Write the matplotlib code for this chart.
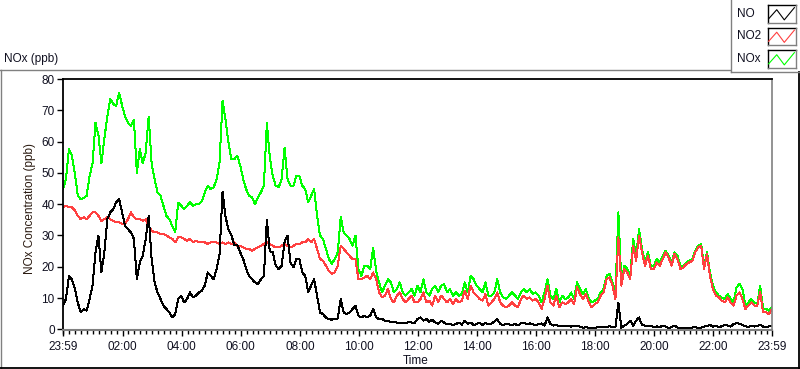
import numpy as np
import matplotlib
matplotlib.use("Agg")
import matplotlib.pyplot as plt
from matplotlib.lines import Line2D

# ---------------- data (6-minute samples starting 23:59) ----------------
start_hour = -1 / 60.0          # 23:59 of the previous day
step_minutes = 6

NO = [7.6, 9.7, 17, 16, 13, 8.6, 5.4, 6.5, 6, 9.7,
      14, 24.6, 30, 18.2, 24.6, 35.2, 37.4, 38.4, 40.6, 41.6,
      37.4, 33.1, 32, 31, 28.9, 16, 21.4, 23.5, 28.9, 36.3,
      22.5, 15, 11.8, 9.7, 7.6, 6.5, 5.4, 3.8, 4.9, 9.7,
      10.8, 8.6, 9.7, 11.8, 10.2, 10.8, 11.8, 12.4, 14, 18.2,
      17.1, 16, 19.3, 24, 44, 36, 32, 30, 27, 27,
      24.6, 22.5, 19.3, 17.1, 16, 15, 14.5, 16, 17.1, 35,
      25, 24.6, 20.3, 19.3, 20.3, 28, 30, 21.4, 19.8, 22.5,
      22.5, 18.2, 17.1, 11.8, 14, 16, 10.8, 5.4, 4.9, 3.8,
      3.3, 3.1, 3.3, 3.5, 9.7, 5.4, 4.9, 5.4, 6.5, 7.6,
      4.4, 3.8, 4.4, 3.8, 4.4, 6.5, 3.8, 3.3, 3.3, 2.8,
      2.8, 2.2, 2.4, 2.2, 2, 2.2, 1.9, 2.4, 2.2, 2,
      3.3, 3.8, 2.8, 3.3, 2.4, 3.1, 2.2, 1.7, 2.8, 2.2,
      1.6, 1.8, 1.4, 1.7, 2.2, 1.5, 2.8, 1.7, 2.2, 1.4,
      1.7, 2.2, 1.4, 2, 1.6, 1.9, 2.4, 3.3, 1.7, 1.4,
      1.8, 1.6, 1.4, 1.7, 1.3, 1.9, 2.2, 1.7, 1.9, 1.6,
      1.4, 1.7, 1.9, 1.2, 3.8, 1.7, 1.2, 1.4, 1, 1.2,
      1, 1.2, 0.9, 1, 1.2, 0.9, 0.5, 0.7, 0.5, 0.4,
      0.5, 0.7, 0.6, 0.9, 0.7, 1, 0.6, 0.7, 8.6, 0.5,
      1.2, 1.7, 2.8, 1.2, 2.8, 3.8, 1.4, 1.2, 1, 1.2,
      0.6, 1, 0.7, 1.2, 0.9, 0.5, 0.7, 1.2, 0.6, 0.4,
      0.3, 0.5, 0.4, 0.6, 0.7, 0.5, 0.6, 0.9, 1.1, 1.4,
      0.9, 1.2, 0.7, 1, 1.4, 1.2, 0.9, 1.7, 2, 1.8,
      1.4, 1, 0.7, 1.2, 0.9, 1.1, 1.4, 0.9, 0.6, 1, 1.2]

NO2 = [39, 39.5, 39, 39, 38, 36.3, 35.2, 35.8, 35.2, 36.3,
       37.4, 37.4, 36.3, 34.7, 35.2, 35.8, 35.2, 34.7, 34.2, 34.2,
       33.7, 33.7, 35.2, 37.4, 35.8, 35.2, 35.2, 34.7, 35.2, 33.1,
       31.5, 31, 31, 30.5, 30.5, 30, 29.4, 28.9, 27.8, 29.4,
       29.4, 28.9, 28.3, 28.9, 27.8, 28.3, 27.8, 27.8, 27.8, 27.3,
       27.8, 27.8, 27.8, 27.3, 27.8, 27.3, 27.8, 27.3, 27.8, 26.7,
       26.7, 26.2, 25.7, 25.7, 25.1, 25.7, 26.2, 26.7, 27.3, 27.8,
       27.3, 26.7, 26.2, 26.2, 26.7, 27.3, 26.7, 26.2, 26.7, 27.3,
       27.3, 27.8, 27.8, 28.9, 27.8, 28.9, 25.7, 22.5, 21.9, 20.3,
       18.7, 17.7, 18.2, 20.3, 26.7, 25.7, 24.6, 23.5, 22.5, 22.5,
       16, 16, 16.6, 17.1, 16, 18.2, 16, 11.8, 10.2, 10.8,
       12.9, 9.7, 8.6, 10.8, 11.8, 9.7, 8.6, 9.7, 10.8, 8.6,
       8.6, 9.7, 11.8, 8.6, 9.2, 7.6, 10.8, 8.6, 10.8, 9.7,
       8.6, 9.7, 8.1, 9.7, 8.6, 9.2, 12.4, 9.7, 14, 11.8,
       10.8, 9.7, 9.2, 11.3, 7.6, 8.6, 9.7, 11.8, 8.6, 7.6,
       7, 7.6, 8.6, 7.6, 7, 9.7, 10.8, 9.7, 10.2, 9.2,
       9.7, 8.6, 6.5, 9.7, 14, 8.6, 7.6, 10.8, 7, 8.6,
       8.1, 8.6, 9.7, 8.1, 13.4, 11.3, 9.7, 11.3, 8.6, 7,
       8.1, 8.6, 10.8, 11.8, 16, 16.6, 14, 9.7, 29.4, 14,
       19.3, 18.2, 16, 26.7, 21.9, 30, 24.6, 20.3, 23.5, 19.3,
       19.3, 21.4, 20.3, 22.5, 24.6, 23, 20.3, 24.1, 22.5, 19.3,
       19.8, 20.9, 21.4, 21.9, 24.6, 26.2, 26.7, 19.3, 24.1, 17.1,
       12.9, 10.8, 10.2, 9.2, 8.6, 10.2, 8.6, 7.6, 10.8, 11.8,
       9.7, 6.5, 7.6, 8.6, 7.6, 7.6, 11.8, 5.4, 5.4, 4.9, 6.5]

NOx = [44.8, 48, 57.6, 55.5, 50, 42.7, 41.6, 42, 42.7, 49,
       53, 66, 62, 53, 61, 68, 73.6, 72, 71.5, 75.7,
       71.5, 68, 66, 65, 67, 50, 57.6, 53, 56.5, 68,
       53, 48, 43.8, 42.7, 39.5, 36.3, 35.2, 33, 31, 40.5,
       39.5, 38.4, 39.5, 40.6, 39.5, 40, 40, 41, 43.8, 45.9,
       44.8, 45.4, 48, 53.4, 73, 67.2, 59.7, 54.4, 54.4, 55.5,
       52.3, 48, 44.8, 42.7, 42.2, 40, 42.2, 43.8, 45.9, 66,
       55, 49, 45.9, 45.4, 48, 58, 48, 45.9, 45.9, 49,
       49, 45.9, 44.8, 40.6, 42.7, 44.8, 36.3, 30, 28.9, 25.7,
       22.5, 20.9, 22.5, 24.6, 36, 31, 30, 28.9, 26.7, 30,
       19.3, 17.1, 20.3, 20.3, 19.3, 26, 18.7, 15, 11.8, 14,
       16, 15, 11.8, 12.9, 15, 11.8, 10.8, 11.8, 12.9, 10.8,
       14, 11.8, 16, 11.8, 10.8, 12.9, 14, 11.8, 14, 14.5,
       11.8, 12.9, 10.8, 11.8, 10.8, 11.3, 15, 11.8, 17.1, 16,
       14, 12.9, 11.8, 15, 10.8, 10.8, 11.8, 16, 11.8, 10.2,
       9.7, 10.8, 11.8, 10.8, 9.7, 11.8, 12.9, 11.8, 12.9, 11.3,
       11.8, 10.8, 8.6, 11.8, 16, 10.8, 9.7, 12.9, 8.6, 10.8,
       9.7, 10.2, 11.8, 9.7, 15, 12.9, 11.3, 12.9, 9.7, 8.6,
       9.2, 9.7, 11.8, 12.9, 17.1, 17.7, 15, 11.8, 37.4, 15,
       20.3, 19.3, 17.1, 28.9, 23.5, 32, 25.7, 21.4, 24.6, 20.3,
       20.3, 22.5, 21.4, 23.5, 25.1, 23.5, 21.4, 24.6, 23.5, 20.3,
       20.3, 21.4, 21.9, 22.5, 25.1, 26.7, 27.3, 20.3, 24.6, 18.2,
       14, 11.8, 10.8, 10.2, 9.7, 11.3, 9.7, 8.6, 13.4, 14.5,
       12.9, 7.6, 8.6, 9.7, 8.6, 8.1, 14, 6.5, 6.5, 6, 7]

series_names = ["NO", "NO2", "NOx"]
series_colors = ["#000000", "#ff4040", "#00ff00"]

xtick_hours = [-1 / 60.0, 2, 4, 6, 8, 10, 12, 14, 16, 18, 20, 22, 24 - 1 / 60.0]
xtick_labels = ["23:59", "02:00", "04:00", "06:00", "08:00", "10:00", "12:00",
                "14:00", "16:00", "18:00", "20:00", "22:00", "23:59"]
yticks = [0, 10, 20, 30, 40, 50, 60, 70, 80]

# ---------------- figure ----------------
W, H = 800, 369
plt.rcParams['font.family'] = ['Liberation Sans', 'DejaVu Sans']
fig = plt.figure(figsize=(W / 100, H / 100), dpi=100)
fig.patch.set_facecolor("white")


def fx(x):
    return x / W


def fy(y):
    return 1 - y / H


ax = fig.add_axes([fx(63), fy(330), fx(772) - fx(63), fy(79) - fy(330)])
t = start_hour + step_minutes / 60.0 * np.arange(len(NO))
data = {"NO": NO, "NO2": NO2, "NOx": NOx}
for name in ["NOx", "NO2", "NO"]:
    col = series_colors[series_names.index(name)]
    ax.plot(t, data[name], color=col, lw=0.72, antialiased=False)

ax.set_xlim(xtick_hours[0], xtick_hours[-1])
ax.set_ylim(-0.2, 80)
ax.set_xticks(xtick_hours)
ax.set_xticklabels(xtick_labels)
ax.set_xticks(np.arange(0, 24, 0.2), minor=True)
ax.set_yticks(yticks)
ax.set_yticklabels([str(v) for v in yticks])
ax.tick_params(axis="both", which="major", length=4, width=1, color="black",
               labelsize=8.5, pad=2, labelcolor="#101020")
ax.tick_params(axis="x", which="minor", length=3, width=1, color="black")
ax.tick_params(axis="x", which="major", pad=4)

ax.spines["top"].set_color("black")
ax.spines["top"].set_linewidth(1.3)
ax.spines["left"].set_color("black")
ax.spines["left"].set_linewidth(1.3)
ax.spines["right"].set_color("#808080")
ax.spines["right"].set_linewidth(1.2)
ax.spines["bottom"].set_color("#808080")
ax.spines["bottom"].set_linewidth(1.5)

# labels
fig.text(fx(4), fy(59), "NOx (ppb)", fontsize=8.5, ha="left", va="center", color="#101020")
fig.text(fx(403), fy(361), "Time", fontsize=8.5, ha="left", va="center", color="#101020")
fig.text(fx(30), fy(208), "NOx Concentration (ppb)", fontsize=8.5, rotation=90,
         ha="center", va="center", color="#2a1a10")


def fline(xs, ys, color, lw=1.0):
    fig.add_artist(Line2D([fx(v) for v in xs], [fy(v) for v in ys],
                          transform=fig.transFigure, color=color, lw=lw))


# outer frame (sunken look)
fline([0, 730], [69.5, 69.5], "#808080")
fline([0.5, 0.5], [69.5, 369], "#808080")
fline([0, 800], [368, 368], "black", 1.3)
fline([798.5, 798.5], [72, 369], "black", 1.3)

# legend box
fline([730.5, 730.5], [0, 72], "#808080")
fline([730.5, 800], [72, 72], "#808080")

box_tops = [5, 27.5, 50]
for name, col, top in zip(series_names, series_colors, box_tops):
    bot = top + 17.5
    fig.text(fx(737), fy(top + 8.7), name, fontsize=8.5, ha="left", va="center", color="#101020")
    x0, x1 = 767.5, 795.5
    fline([x0, x1], [top, top], "black")
    fline([x0, x0], [top, bot], "black")
    fline([x0, x1], [bot, bot], "#808080")
    fline([x1, x1], [top, bot], "#808080")
    zx = [x0 + 0.04 * 28, x0 + 0.33 * 28, x0 + 0.60 * 28, x0 + 0.96 * 28]
    zy = [bot - 0.21 * 17.5, bot - 0.73 * 17.5, bot - 0.15 * 17.5, bot - 0.85 * 17.5]
    fline(zx, zy, col, 0.8)

fig.savefig("out.png", dpi=100, facecolor="white")
